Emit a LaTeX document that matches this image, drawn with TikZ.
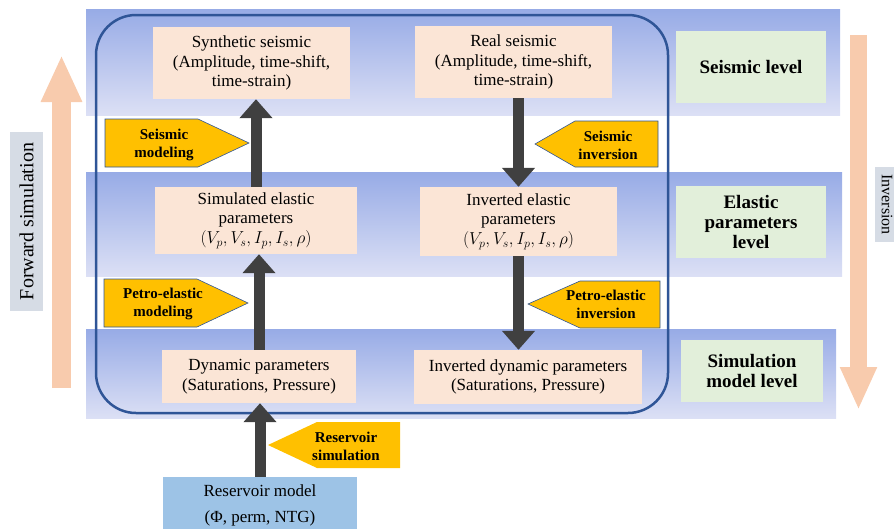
\documentclass[tikz,border=0pt]{standalone}
\usepackage{fontspec}
\setmainfont{Liberation Serif}
\usetikzlibrary{arrows.meta}

\definecolor{bandtop}{HTML}{97ABE6}
\definecolor{bandbot}{HTML}{DCE0F5}
\definecolor{peach}{HTML}{FBE5D6}
\definecolor{levelgreen}{HTML}{E2EFDA}
\definecolor{resblue}{HTML}{9DC3E6}
\definecolor{tagyellow}{HTML}{FFC000}
\definecolor{labelgrey}{HTML}{D6DCE5}
\definecolor{sidepeach}{HTML}{F8CBAD}
\definecolor{darkarrow}{HTML}{404040}
\definecolor{frameblue}{HTML}{2F5597}

\tikzset{
    levelband/.style = {top color=bandtop, bottom color=bandbot},
    databox/.style = {fill=peach, align=center, inner sep=0pt,
        font=\fontsize{17}{19.5}\selectfont},
    levelbox/.style = {fill=levelgreen, align=center, inner sep=0pt,
        font=\bfseries\fontsize{19}{20}\selectfont},
    tagshape/.style = {fill=tagyellow, draw=frameblue, line width=0.6pt},
    tagtext/.style = {align=center, inner sep=0pt,
        font=\bfseries\fontsize{15}{18}\selectfont},
    fatarrow/.style = {draw=darkarrow, line width=11pt,
        -{Triangle[width=32pt,length=19pt]}},
    sidelabel/.style = {fill=labelgrey, inner sep=0pt}
}

\begin{document}
\begin{tikzpicture}[x=1pt, y=-1pt]
    \clip (0,0) rectangle (894,528);
    % level bands
    \fill[levelband] (86,9) rectangle (840,115);
    \fill[levelband] (86,172) rectangle (842,276);
    \fill[levelband] (86,329) rectangle (836,418);
    \draw[frameblue, line width=2.5pt, rounded corners=40pt] (96,15) rectangle (668,413);

    % data boxes
    \node[databox, minimum width=197, minimum height=72] (synth) at (251.5,63)
        {Synthetic seismic\\(Amplitude, time-shift,\\time-strain)};
    \node[databox, minimum width=197, minimum height=72] (realseis) at (513.5,62)
        {Real seismic\\(Amplitude, time-shift,\\time-strain)};
    \node[databox, minimum width=202, minimum height=67] (simel) at (256,220.5)
        {Simulated elastic\\parameters\\$(V_p, V_s, I_p, I_s, \rho)$};
    \node[databox, minimum width=197, minimum height=69] (invel) at (518.5,221.5)
        {Inverted elastic\\parameters\\$(V_p, V_s, I_p, I_s, \rho)$};
    \node[databox, minimum width=194, minimum height=53] (dyn) at (259,376.5)
        {Dynamic parameters\\(Saturations, Pressure)};
    \node[databox, minimum width=228, minimum height=54] (invdyn) at (528,377)
        {Inverted dynamic parameters\\(Saturations, Pressure)};
    \node[databox, fill=resblue, minimum width=194, minimum height=56,
        font=\fontsize{17}{26}\selectfont] (resmod) at (260,505)
        {Reservoir model\\(Φ, perm, NTG)};

    % level names
    \node[levelbox, minimum width=150, minimum height=72] (seislev) at (751,67) {Seismic level};
    \node[levelbox, minimum width=150, minimum height=72] (elaslev) at (751,222)
        {Elastic\\parameters\\level};
    \node[levelbox, minimum width=142, minimum height=62] (simlev) at (752,371)
        {Simulation\\model level};

    % process tags
    \draw[tagshape] (105,119) -- (198,119) -- (249,143) -- (198,167) -- (105,167) -- cycle;
    \node[tagtext] (seismod) at (164,145) {Seismic\\modeling};
    \draw[tagshape] (658,121) -- (575,121) -- (535,144) -- (575,167) -- (658,167) -- cycle;
    \node[tagtext] (seisinv) at (608,145) {Seismic\\inversion};
    \draw[tagshape] (104,279) -- (197,279) -- (248,303) -- (197,327) -- (104,327) -- cycle;
    \node[tagtext] (pemod) at (163,304) {Petro-elastic\\modeling};
    \draw[tagshape] (660,281) -- (580,281) -- (528,304) -- (580,328) -- (660,328) -- cycle;
    \node[tagtext] (peinv) at (606,304) {Petro-elastic\\inversion};
    \fill[tagyellow] (400,422) -- (317,422) -- (268,445) -- (317,468) -- (400,468) -- cycle;
    \node[tagtext] (ressim) at (346,446) {Reservoir\\simulation};

    % workflow arrows
    \draw[fatarrow] (simel.north) -- (simel.north |- synth.south);
    \draw[fatarrow] (invel.north |- realseis.south) -- (invel.north);
    \draw[fatarrow] (dyn.north) -- (dyn.north |- simel.south);
    \draw[fatarrow] (invel.south) -- (invel.south |- invdyn.north);
    \draw[fatarrow] (resmod.north) -- (resmod.north |- dyn.south);

    % direction arrows
    \coordinate (fwdbot) at (61.5,388);
    \coordinate (fwdtop) at (61.5,55);
    \draw[sidepeach, line width=19pt, -{Triangle[width=38pt,length=47pt]}] (fwdbot) -- (fwdtop);
    \node[sidelabel, rotate=90, minimum width=179, minimum height=33,
        font=\fontsize{20}{20}\selectfont] (fwdlabel) at (26.5,221.5) {Forward simulation};
    \coordinate (invtop) at (858.5,35);
    \coordinate (invbot) at (858.5,410);
    \draw[sidepeach, line width=17pt, -{Triangle[width=34pt,length=43pt]}] (invtop) -- (invbot);
    \node[sidelabel, rotate=-90, minimum width=75, minimum height=24,
        font=\fontsize{16}{16}\selectfont] (invlabel) at (887,204.5) {Inversion};
\end{tikzpicture}
\end{document}
